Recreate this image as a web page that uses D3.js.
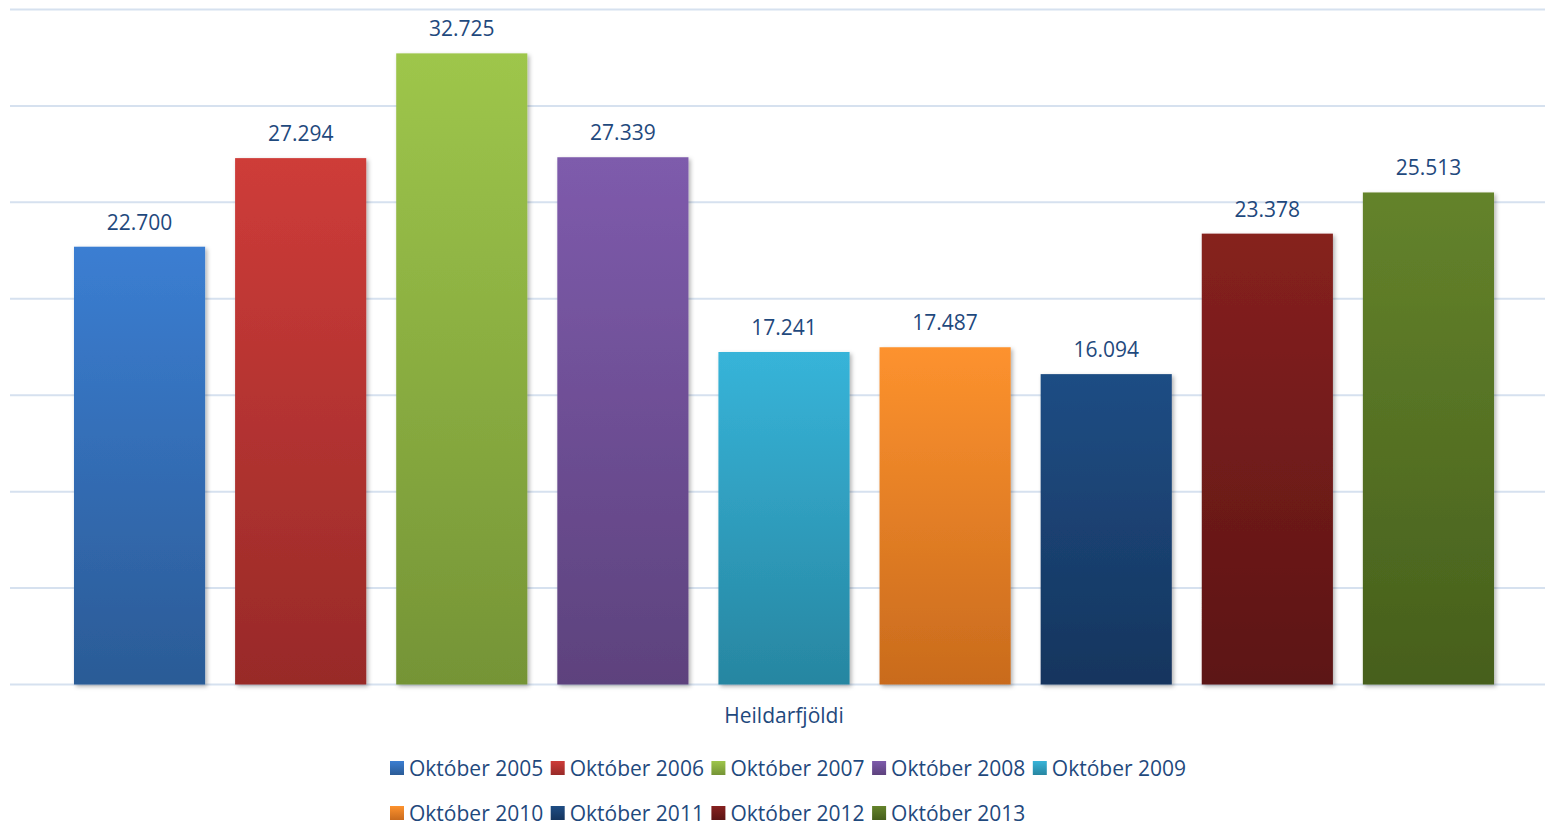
<!DOCTYPE html>
<html>
<head>
<meta charset="utf-8">
<script src="https://cdn.jsdelivr.net/npm/d3@7"></script>
<style>
  body { margin: 0; background: #fff; }
  text { font-family: "Open Sans", sans-serif; fill: #1f497d; }
</style>
</head>
<body>
<svg id="chart" width="1545" height="825"></svg>
<script>
const categories = ['Október 2005', 'Október 2006', 'Október 2007', 'Október 2008', 'Október 2009',
  'Október 2010', 'Október 2011', 'Október 2012', 'Október 2013'];
const values = [22700, 27294, 32725, 27339, 17241, 17487, 16094, 23378, 25513];
const topColors = ['#3b7ed2', '#ce3c39', '#9ec64b', '#7e5bac', '#37b4d9', '#fd922e', '#1f4d84', '#86211f', '#64832b'];
const bottomColors = ['#2b5b96', '#982a28', '#759436', '#5d427d', '#2786a1', '#c96b1d', '#15355e', '#5c1515', '#465f1c'];
const yTicks = [0, 5000, 10000, 15000, 20000, 25000, 30000, 35000];
const axisTitle = 'Heildarfjöldi';

const svg = d3.select('#chart');
const defs = svg.append('defs');

const shadow = defs.append('filter')
    .attr('id', 'shadow')
    .attr('x', '-10%').attr('y', '-10%')
    .attr('width', '130%').attr('height', '130%');
shadow.append('feDropShadow')
    .attr('dx', 2).attr('dy', 2)
    .attr('stdDeviation', 2)
    .attr('flood-color', '#000')
    .attr('flood-opacity', 0.3);

categories.forEach((c, i) => {
  const grad = defs.append('linearGradient')
      .attr('id', `grad${i}`)
      .attr('x1', 0).attr('y1', 0).attr('x2', 0).attr('y2', 1);
  grad.append('stop').attr('offset', '0%').attr('stop-color', topColors[i]);
  grad.append('stop').attr('offset', '100%').attr('stop-color', bottomColors[i]);
});

const y = d3.scaleLinear()
    .domain([0, 35000])
    .range([684.5, 9.5]);

const x = d3.scaleBand()
    .domain(categories)
    .range([59, 1509])
    .paddingInner(0.186)
    .paddingOuter(0.093);

svg.append('g')
    .attr('class', 'grid')
    .selectAll('line')
    .data(yTicks)
    .join('line')
    .attr('x1', 10)
    .attr('x2', 1545)
    .attr('y1', d => y(d))
    .attr('y2', d => y(d))
    .attr('stroke', '#d6e1ef')
    .attr('stroke-width', 2);

svg.append('g')
    .selectAll('rect')
    .data(values)
    .join('rect')
    .attr('x', (d, i) => x(categories[i]))
    .attr('y', d => y(d))
    .attr('width', x.bandwidth())
    .attr('height', d => y(0) - y(d))
    .attr('fill', (d, i) => `url(#grad${i})`)
    .attr('filter', 'url(#shadow)');

const fmt = d => d3.format(',')(d).replace(',', '.');

svg.append('g')
    .selectAll('text')
    .data(values)
    .join('text')
    .attr('x', (d, i) => x(categories[i]) + x.bandwidth() / 2)
    .attr('y', d => y(d) - 17)
    .attr('text-anchor', 'middle')
    .style('font-size', '21px')
    .text(fmt);

svg.append('text')
    .attr('x', 784)
    .attr('y', 723)
    .attr('text-anchor', 'middle')
    .style('font-size', '21px')
    .text(axisTitle);

const legend = svg.append('g')
    .selectAll('g')
    .data(categories)
    .join('g')
    .attr('transform', (d, i) => `translate(${390 + (i % 5) * 160.7},${i < 5 ? 761 : 806})`);

legend.append('rect')
    .attr('width', 14)
    .attr('height', 14)
    .attr('fill', (d, i) => `url(#grad${i})`);

legend.append('text')
    .attr('x', 19)
    .attr('y', 14.5)
    .style('font-size', '21px')
    .text(d => d);
</script>
</body>
</html>
